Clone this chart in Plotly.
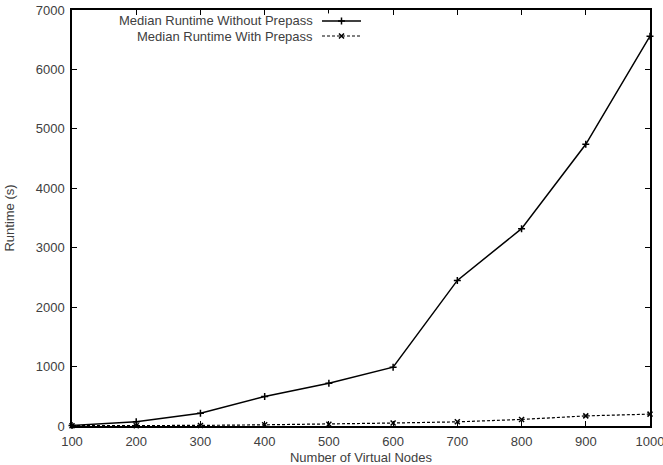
import plotly.graph_objects as go

nodes = [100, 200, 300, 400, 500, 600, 700, 800, 900, 1000]
without_prepass = [10, 70, 215, 495, 720, 990, 2450, 3320, 4740, 6560]
with_prepass = [5, 5, 10, 20, 30, 50, 70, 110, 170, 200]
x_ticks = [100, 200, 300, 400, 500, 600, 700, 800, 900, 1000]
y_ticks = [0, 1000, 2000, 3000, 4000, 5000, 6000, 7000]
series_names = ["Median Runtime Without Prepass", "Median Runtime With Prepass"]

font = dict(family="Liberation Sans, Arial, sans-serif", size=13, color="#404040")

fig = go.Figure()
fig.add_trace(go.Scatter(
    x=nodes, y=without_prepass, mode="lines+markers", name=series_names[0],
    line=dict(color="black", width=1.5),
    marker=dict(symbol="cross-thin", size=5, line=dict(color="black", width=1.5)),
    showlegend=False, cliponaxis=False))
fig.add_trace(go.Scatter(
    x=nodes, y=with_prepass, mode="lines+markers", name=series_names[1],
    line=dict(color="black", width=1.2, dash="3px,2px"),
    marker=dict(symbol="x-thin", size=5, line=dict(color="black", width=1.5)),
    showlegend=False, cliponaxis=False))

# legend samples (gnuplot style: text on the left, sample on the right)
fig.add_trace(go.Scatter(
    x=[0.0, 0.5, 1.0], y=[0.75, 0.75, 0.75], xaxis="x2", yaxis="y2",
    mode="lines", line=dict(color="black", width=1.5), showlegend=False, hoverinfo="skip"))
fig.add_trace(go.Scatter(
    x=[0.5], y=[0.75], xaxis="x2", yaxis="y2", mode="markers",
    marker=dict(symbol="cross-thin", size=5, line=dict(color="black", width=1.5)),
    showlegend=False, hoverinfo="skip"))
fig.add_trace(go.Scatter(
    x=[0.0, 0.5, 1.0], y=[0.25, 0.25, 0.25], xaxis="x2", yaxis="y2",
    mode="lines", line=dict(color="black", width=1.2, dash="3px,2px"), showlegend=False, hoverinfo="skip"))
fig.add_trace(go.Scatter(
    x=[0.5], y=[0.25], xaxis="x2", yaxis="y2", mode="markers",
    marker=dict(symbol="x-thin", size=5, line=dict(color="black", width=1.5)),
    showlegend=False, hoverinfo="skip"))

fig.update_layout(
    width=663, height=465,
    margin=dict(l=72, r=13, t=10, b=39),
    paper_bgcolor="white", plot_bgcolor="white",
    font=font,
    xaxis=dict(
        range=[100, 1000], tickvals=x_ticks, ticktext=[str(v) for v in x_ticks],
        ticks="inside", ticklen=5, tickcolor="black", tickwidth=1,
        showline=True, linecolor="black", linewidth=1.5, mirror="ticks",
        showgrid=False, zeroline=False, automargin=False,
        ticklabeloverflow="allow", ticklabelstandoff=3,
        title=dict(text="Number of Virtual Nodes", font=font, standoff=8),
    ),
    yaxis=dict(
        range=[0, 7000], tickvals=y_ticks, ticktext=[str(v) for v in y_ticks],
        ticks="inside", ticklen=5, tickcolor="black", tickwidth=1,
        showline=True, linecolor="black", linewidth=1.5, mirror="ticks",
        showgrid=False, zeroline=False, automargin=False,
        ticklabelstandoff=3,
        title=dict(text="Runtime (s)", font=font, standoff=18),
    ),
    xaxis2=dict(domain=[0.4325, 0.50], range=[0, 1], visible=False, anchor="y2"),
    yaxis2=dict(domain=[0.9195, 0.9917], range=[0, 1], visible=False, anchor="x2"),
    annotations=[
        dict(text=series_names[0], xref="paper", yref="paper", x=0.42, y=0.9736,
             xanchor="right", yanchor="middle", showarrow=False, font=font),
        dict(text=series_names[1], xref="paper", yref="paper", x=0.42, y=0.9375,
             xanchor="right", yanchor="middle", showarrow=False, font=font),
    ],
)

fig.write_html("out.html")
